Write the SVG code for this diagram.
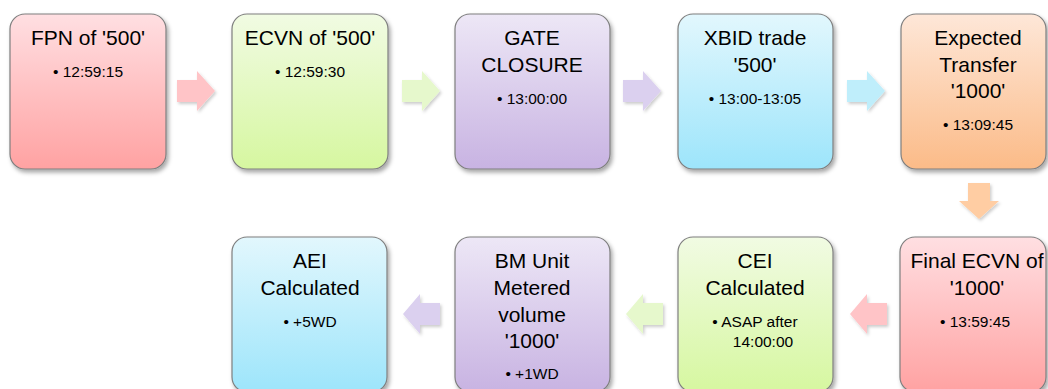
<svg xmlns="http://www.w3.org/2000/svg" width="1048" height="389" viewBox="0 0 1048 389">
<defs>
<linearGradient id="gPink" x1="0" y1="0" x2="0" y2="1"><stop offset="0" stop-color="#ffdfe2"/><stop offset="1" stop-color="#ffa2a2"/></linearGradient>
<linearGradient id="gGreen" x1="0" y1="0" x2="0" y2="1"><stop offset="0" stop-color="#f1fbe3"/><stop offset="1" stop-color="#d6f7a0"/></linearGradient>
<linearGradient id="gPurple" x1="0" y1="0" x2="0" y2="1"><stop offset="0" stop-color="#ede7f6"/><stop offset="1" stop-color="#c8b3e2"/></linearGradient>
<linearGradient id="gBlue" x1="0" y1="0" x2="0" y2="1"><stop offset="0" stop-color="#e2f7fd"/><stop offset="1" stop-color="#9de5fb"/></linearGradient>
<linearGradient id="gOrange" x1="0" y1="0" x2="0" y2="1"><stop offset="0" stop-color="#fee7d8"/><stop offset="1" stop-color="#fbbb88"/></linearGradient>
<filter id="sh" x="-10%" y="-10%" width="125%" height="125%"><feDropShadow dx="2" dy="3" stdDeviation="2" flood-color="#000" flood-opacity="0.35"/></filter>
<filter id="ash" x="-20%" y="-20%" width="150%" height="150%"><feDropShadow dx="1.5" dy="2" stdDeviation="1.5" flood-color="#000" flood-opacity="0.2"/></filter>
<path id="arR" d="M0,-11 H20 V-20 L38,0 L20,20 V11 H0 Z"/>
<path id="arL" d="M0,-11 H-20 V-20 L-37,0 L-20,20 V11 H0 Z"/>
<path id="arD" d="M-11,0 V18 H-20 L0,36 L20,18 H11 V0 Z"/>
</defs>
<style>
.box{stroke:#7f7f7f;stroke-width:1.2;filter:url(#sh)}
.t{font-family:"Liberation Sans",Arial,sans-serif;font-size:21px;fill:#000;text-anchor:middle}
.b{font-family:"Liberation Sans",Arial,sans-serif;font-size:15.5px;fill:#000;text-anchor:middle}
.arrow{filter:url(#ash)}
</style>
<rect width="1048" height="389" fill="#fff"/>
<g id="connectors">
<use href="#arR" x="177" y="91" fill="#ffc4c7" class="arrow"/>
<use href="#arR" x="402" y="91" fill="#e6f8cc" class="arrow"/>
<use href="#arR" x="623" y="91" fill="#dbd0ef" class="arrow"/>
<use href="#arR" x="847" y="91" fill="#bfeefb" class="arrow"/>
<use href="#arD" x="979" y="183" fill="#ffcda3" class="arrow"/>
<use href="#arL" x="887" y="314" fill="#ffc4c7" class="arrow"/>
<use href="#arL" x="663" y="314" fill="#e6f8cc" class="arrow"/>
<use href="#arL" x="440" y="314" fill="#dbd0ef" class="arrow"/>
</g>
<g id="n1"><rect class="box" x="10" y="14" width="156" height="155" rx="15" fill="url(#gPink)"/>
<text class="t" x="88" y="45">FPN of '500'</text><text class="b" x="88" y="77">• 12:59:15</text></g>
<g id="n2"><rect class="box" x="232" y="14" width="156" height="155" rx="15" fill="url(#gGreen)"/>
<text class="t" x="310" y="45">ECVN of '500'</text><text class="b" x="310" y="77">• 12:59:30</text></g>
<g id="n3"><rect class="box" x="455" y="14" width="155" height="155" rx="15" fill="url(#gPurple)"/>
<text class="t" x="532" y="45">GATE</text><text class="t" x="532" y="72">CLOSURE</text><text class="b" x="532" y="104">• 13:00:00</text></g>
<g id="n4"><rect class="box" x="678" y="14" width="155" height="155" rx="15" fill="url(#gBlue)"/>
<text class="t" x="755" y="45">XBID trade</text><text class="t" x="755" y="72">'500'</text><text class="b" x="755" y="104">• 13:00-13:05</text></g>
<g id="n5"><rect class="box" x="901" y="14" width="145" height="155" rx="15" fill="url(#gOrange)"/>
<text class="t" x="978" y="45">Expected</text><text class="t" x="978" y="72">Transfer</text><text class="t" x="978" y="98">'1000'</text><text class="b" x="978" y="130">• 13:09:45</text></g>
<g id="n6"><rect class="box" x="900" y="237" width="146" height="155" rx="15" fill="url(#gPink)"/>
<text class="t" x="977" y="268">Final ECVN of</text><text class="t" x="977" y="295">'1000'</text><text class="b" x="975" y="327">• 13:59:45</text></g>
<g id="n7"><rect class="box" x="678" y="237" width="155" height="155" rx="15" fill="url(#gGreen)"/>
<text class="t" x="755" y="268">CEI</text><text class="t" x="755" y="295">Calculated</text><text class="b" x="755" y="327">• ASAP after</text><text class="b" x="763" y="347">14:00:00</text></g>
<g id="n8"><rect class="box" x="455" y="237" width="155" height="155" rx="15" fill="url(#gPurple)"/>
<text class="t" x="532" y="268">BM Unit</text><text class="t" x="532" y="295">Metered</text><text class="t" x="532" y="322">volume</text><text class="t" x="532" y="348">'1000'</text><text class="b" x="532" y="379">• +1WD</text></g>
<g id="n9"><rect class="box" x="232" y="237" width="155" height="155" rx="15" fill="url(#gBlue)"/>
<text class="t" x="310" y="268">AEI</text><text class="t" x="310" y="295">Calculated</text><text class="b" x="310" y="327">• +5WD</text></g>
</svg>
